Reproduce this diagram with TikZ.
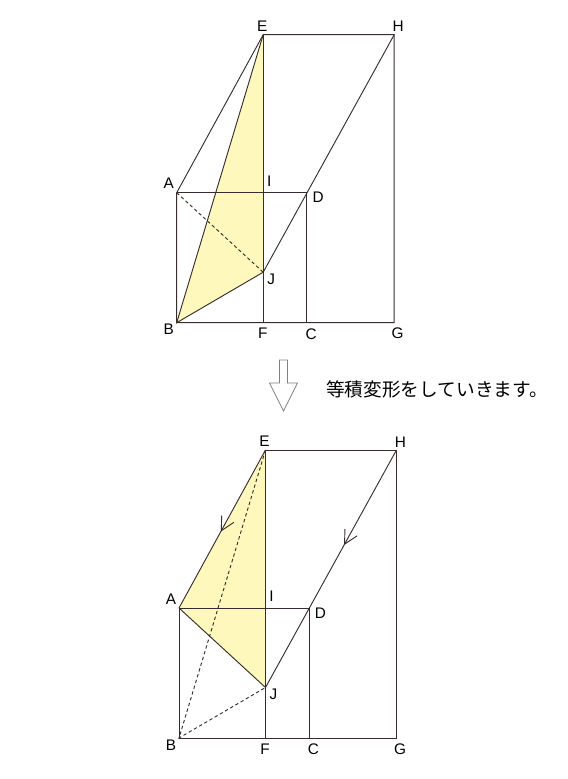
\documentclass[tikz,border=0pt]{standalone}
\usepackage{fontspec}
\setmainfont{Liberation Sans}
\newfontfamily\jpfont{Noto Sans CJK JP}
\usetikzlibrary{arrows.meta, decorations.markings}
\definecolor{edgeGray}{RGB}{55,45,45}
\definecolor{paleYellow}{RGB}{255,248,188}
\tikzstyle{edge} = [draw=edgeGray, line width=0.7pt]
\tikzstyle{dashedEdge} = [edge, dash pattern=on 2.5pt off 2pt]
\tikzstyle{shade} = [fill=paleYellow]
\tikzstyle{pointLabel} = [inner sep=0pt, font=\fontsize{11.5}{13}\selectfont]
\tikzstyle{hollowArrow} = [draw=gray, line width=0.6pt, fill=white]
\tikzset{flowMark/.style={postaction={decorate}, decoration={markings, mark=at position #1 with {\arrow{Straight Barb[length=10pt,width=10.5pt]}}}}}

\begin{document}
\begin{tikzpicture}[x=0.75pt, y=-0.75pt]
\useasboundingbox (0,0) rectangle (568,779);

% upper figure
\begin{scope}[shift={(176.7,192.7)}]
\coordinate (A) at (0,0);
\coordinate (I) at (86.5,0);
\coordinate (D) at (130,0);
\coordinate (E) at (86.5,-158);
\coordinate (H) at (217.5,-158);
\coordinate (B) at (0,130);
\coordinate (F) at (86.5,130);
\coordinate (C) at (130,130);
\coordinate (G) at (217.5,130);
\coordinate (J) at (86.5,79.5);

\fill [shade] (E) -- (B) -- (J) -- cycle;
\draw [edge] (A) -- (E) -- (H) -- (G) -- (B) -- cycle;
\draw [edge] (A) -- (D) -- (C);
\draw [edge] (E) -- (F);
\draw [edge] (H) -- (J);
\draw [edge] (E) -- (B) -- (J);
\draw [dashedEdge] (A) -- (J);

\node (labA) [pointLabel] at (-8,-9) {A};
\node (labB) [pointLabel] at (-8,137) {B};
\node (labC) [pointLabel] at (134.5,141.5) {C};
\node (labD) [pointLabel] at (141.5,5) {D};
\node (labE) [pointLabel] at (85.5,-166.5) {E};
\node (labF) [pointLabel] at (86,141) {F};
\node (labG) [pointLabel] at (221,141) {G};
\node (labH) [pointLabel] at (221.5,-166) {H};
\node (labI) [pointLabel] at (92.5,-11.5) {I};
\node (labJ) [pointLabel] at (94.5,86.5) {J};
\end{scope}

\draw [hollowArrow] (279.5,360) -- (287.5,360) -- (287.5,383) -- (297.5,383) -- (283.5,411) -- (269.5,383) -- (279.5,383) -- cycle;
\node (noteText) [anchor=west, inner sep=0pt, font=\jpfont\fontsize{14}{16}\selectfont] at (326,389) {等積変形をしていきます。};

% lower figure
\begin{scope}[shift={(179,608)}]
\coordinate (A) at (0,0);
\coordinate (I) at (86.5,0);
\coordinate (D) at (130,0);
\coordinate (E) at (86.5,-158);
\coordinate (H) at (217.5,-158);
\coordinate (B) at (0,130);
\coordinate (F) at (86.5,130);
\coordinate (C) at (130,130);
\coordinate (G) at (217.5,130);
\coordinate (J) at (86.5,79.5);

\fill [shade] (E) -- (A) -- (J) -- cycle;
\draw [edge] (E) -- (H) -- (G) -- (B) -- (A);
\draw [edge, flowMark=0.516] (E) -- (A);
\draw [edge] (A) -- (D) -- (C);
\draw [edge] (E) -- (F);
\draw [edge, flowMark=0.4] (H) -- (J);
\draw [edge] (A) -- (J);
\draw [dashedEdge] (E) -- (B) -- (J);

\node (labA) [pointLabel] at (-8,-9) {A};
\node (labB) [pointLabel] at (-8,137) {B};
\node (labC) [pointLabel] at (134.5,141.5) {C};
\node (labD) [pointLabel] at (141.5,5) {D};
\node (labE) [pointLabel] at (85.5,-166.5) {E};
\node (labF) [pointLabel] at (86,141) {F};
\node (labG) [pointLabel] at (221,141) {G};
\node (labH) [pointLabel] at (221.5,-166) {H};
\node (labI) [pointLabel] at (92.5,-11.5) {I};
\node (labJ) [pointLabel] at (94.5,86.5) {J};
\end{scope}
\end{tikzpicture}
\end{document}
